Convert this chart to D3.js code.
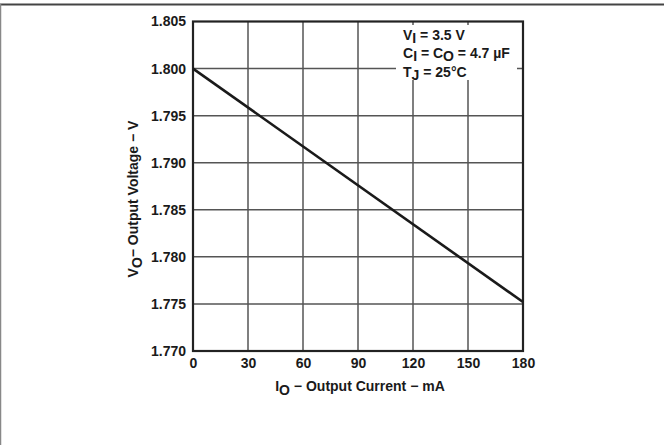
<!DOCTYPE html>
<html><head><meta charset="utf-8">
<script src="https://cdn.jsdelivr.net/npm/d3@7"></script>
<style>
body{margin:0;background:#fff;}
svg text{font-family:"Liberation Sans",Arial,sans-serif;font-weight:bold;fill:#1a1a1a;}
</style></head>
<body><svg id="c" width="664" height="445"></svg>
<script>
const currents = [0, 180];
const voltages = [1.800, 1.7752];
const xTicks = [0, 30, 60, 90, 120, 150, 180];
const yTicks = [1.770, 1.775, 1.780, 1.785, 1.790, 1.795, 1.800, 1.805];

const svg = d3.select("#c");
const L = 193, R = 523, T = 21.5, B = 351;
const FS = 14;
const x = d3.scaleLinear().domain([0, 180]).range([L, R]);
const y = d3.scaleLinear().domain([1.770, 1.805]).range([B, T]);

// outer frame
svg.append("line").attr("x1",0).attr("x2",664).attr("y1",4.5).attr("y2",4.5).attr("stroke","#444").attr("stroke-width",2);
svg.append("line").attr("x1",0.5).attr("x2",0.5).attr("y1",4).attr("y2",445).attr("stroke","#888").attr("stroke-width",1.5);

// grid
svg.append("g").selectAll("line").data(xTicks.slice(1,-1)).join("line")
  .attr("x1",d=>x(d)).attr("x2",d=>x(d)).attr("y1",T).attr("y2",B)
  .attr("stroke","#555").attr("stroke-width",1.5);
svg.append("g").selectAll("line").data(yTicks.slice(1,-1)).join("line")
  .attr("x1",L).attr("x2",R).attr("y1",d=>y(d)).attr("y2",d=>y(d))
  .attr("stroke","#555").attr("stroke-width",1.5);

// annotation background
svg.append("rect").attr("x",396).attr("y",25).attr("width",121).attr("height",55).attr("fill","#fff");

// border
svg.append("rect").attr("x",L).attr("y",T).attr("width",R-L).attr("height",B-T)
  .attr("fill","none").attr("stroke","#222").attr("stroke-width",2.2);

// axes labels
const xa = d3.axisBottom(x).tickValues(xTicks).tickSize(0).tickPadding(7).tickFormat(d3.format("d"));
const gx = svg.append("g").attr("transform",`translate(0,${B})`).call(xa);
gx.select(".domain").remove();
gx.selectAll("text").attr("font-size",FS).attr("fill","#1a1a1a");

const ya = d3.axisLeft(y).tickValues(yTicks).tickSize(0).tickPadding(7).tickFormat(d3.format(".3f"));
const gy = svg.append("g").attr("transform",`translate(${L},0)`).call(ya);
gy.select(".domain").remove();
gy.selectAll("text").attr("font-size",FS).attr("fill","#1a1a1a");

// data line
const line = d3.line().x(d=>x(d[0])).y(d=>y(d[1]));
svg.append("path").datum(currents.map((c,i)=>[c,voltages[i]]))
  .attr("d",line).attr("fill","none").attr("stroke","#1a1a1a").attr("stroke-width",2.6);

// x title
const xt = svg.append("text").attr("x",360).attr("y",391).attr("text-anchor","middle").attr("font-size",FS);
xt.append("tspan").text("I");
xt.append("tspan").attr("dy",4).text("O");
xt.append("tspan").attr("dy",-4).text(" − Output Current − mA");

// y title
const yt = svg.append("text").attr("transform","translate(138,199) rotate(-90)").attr("text-anchor","middle").attr("font-size",FS);
yt.append("tspan").text("V");
yt.append("tspan").attr("dy",4).text("O");
yt.append("tspan").attr("dy",-4).text("− Output Voltage − V");

// annotation
function ann(yy, parts){
  const t = svg.append("text").attr("x",403).attr("y",yy).attr("font-size",FS);
  parts.forEach(p=>{
    const s = t.append("tspan").text(p[0]);
    if(p[1]) s.attr("dy",p[1]);
  });
}
ann(40, [["V"],["I",3],[" = 3.5 V",-3]]);
ann(58, [["C"],["I",3],[" = C",-3],["O",3],[" = 4.7 µF",-3]]);
ann(77, [["T"],["J",3],[" = 25°C",-3]]);
</script></body></html>
